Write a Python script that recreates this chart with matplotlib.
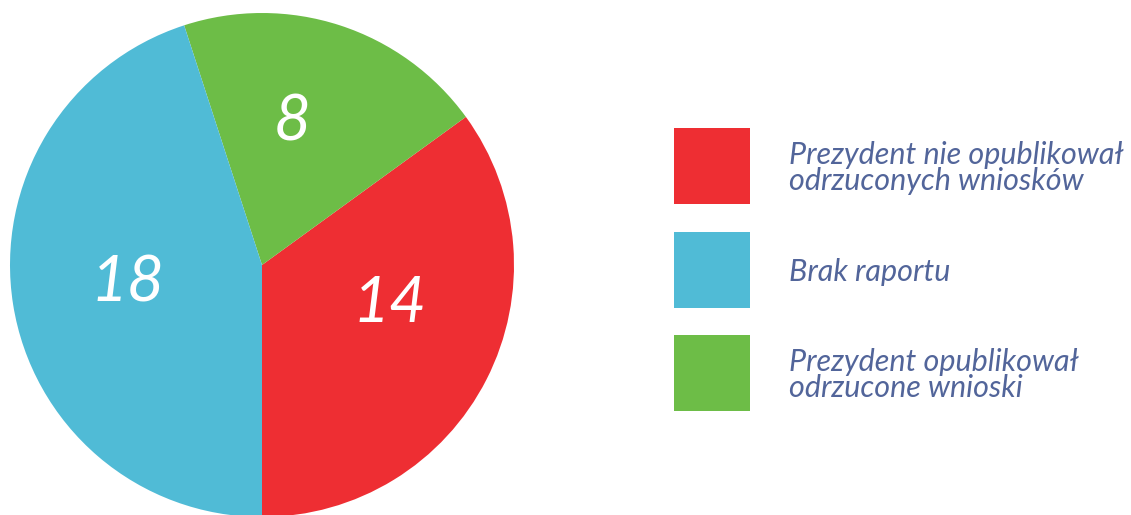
import matplotlib
matplotlib.use("Agg")
import numpy as np
import matplotlib.pyplot as plt
from matplotlib.patches import Rectangle

# data
labels = ["Prezydent nie opublikował\nodrzuconych wniosków",
          "Prezydent opublikował\nodrzucone wnioski",
          "Brak raportu"]
values = [14, 8, 18]
colors = ["#ee2e33", "#6dbd47", "#50bbd6"]
legend_order = [0, 2, 1]

plt.rcParams['font.family'] = ['Lato', 'DejaVu Sans']

W, H = 1131, 515
fig = plt.figure(figsize=(W / 100, H / 100), dpi=100)

# pie axes, placed in pixels: centre (262, 265), radius 252
cx, cy, r = 262, 265, 252
ax = fig.add_axes([(cx - r) / W, (H - cy - r) / H, 2 * r / W, 2 * r / H])
wedges, _ = ax.pie(values, colors=colors, startangle=-90, counterclock=True,
                   radius=1.0, wedgeprops=dict(linewidth=0))
ax.set_xlim(-1, 1)
ax.set_ylim(-1, 1)
ax.set_aspect('auto')
ax.axis('off')

# value labels (angle in degrees, distance from centre)
label_pos = [(-17, 0.53), (78, 0.58), (188, 0.54)]
for v, (ang, d) in zip(values, label_pos):
    a = np.deg2rad(ang)
    ax.text(d * np.cos(a), d * np.sin(a), str(v), color='white',
            fontsize=46, fontstyle='italic', ha='center', va='center')

# legend drawn by hand: 76 px squares, text to the right
sq = 76
tops = [128, 232, 335]
for k, i in enumerate(legend_order):
    y0 = H - tops[k] - sq
    fig.add_artist(Rectangle((674 / W, y0 / H), sq / W, sq / H,
                             transform=fig.transFigure, facecolor=colors[i],
                             edgecolor='none'))
    fig.text(789 / W, (y0 + sq / 2 - 2) / H, labels[i], color='#52659a',
             fontsize=22, fontstyle='italic', ha='left', va='center',
             linespacing=0.95)

fig.savefig("out.png", dpi=100, facecolor='white')
